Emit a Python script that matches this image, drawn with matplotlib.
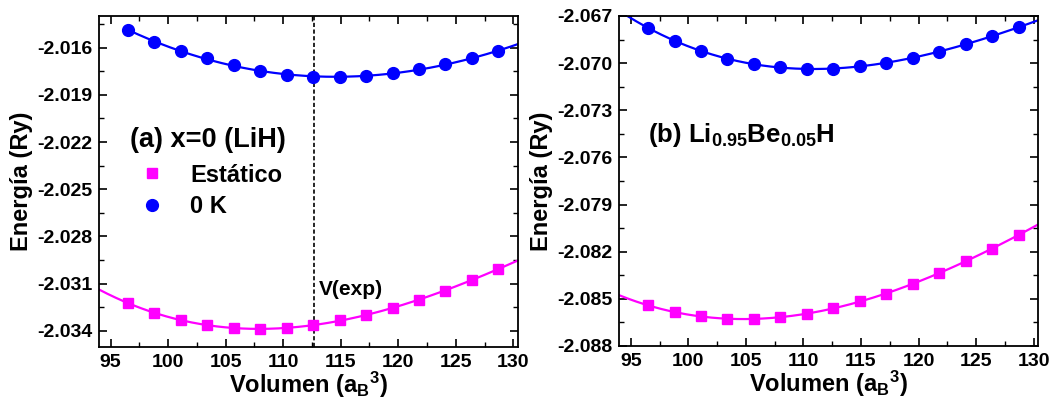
import matplotlib
matplotlib.use("Agg")
import matplotlib.pyplot as plt
import numpy as np
from matplotlib.ticker import MultipleLocator

plt.rcParams['font.family'] = ['Liberation Sans', 'DejaVu Sans']
plt.rcParams['font.weight'] = 'bold'
plt.rcParams['axes.labelweight'] = 'bold'
plt.rcParams['mathtext.fontset'] = 'custom'
plt.rcParams['mathtext.rm'] = 'Liberation Sans:bold'
plt.rcParams['mathtext.bf'] = 'Liberation Sans:bold'
plt.rcParams['mathtext.it'] = 'Liberation Sans:bold'

# volumes (a_B^3)
volumen = [96.5, 98.8, 101.1, 103.4, 105.7, 108.0, 110.3, 112.6,
           114.9, 117.2, 119.5, 121.8, 124.1, 126.4, 128.7]

# (a) LiH
lih_0k = [-2.01486, -2.01562, -2.01623, -2.01664, -2.01712, -2.01748, -2.01774, -2.01786,
          -2.01786, -2.01780, -2.01761, -2.01737, -2.01704, -2.01666, -2.01621]
lih_static = [-2.03222, -2.03288, -2.03334, -2.03366, -2.03383, -2.03388, -2.03381, -2.03366,
              -2.03334, -2.03302, -2.03254, -2.03203, -2.03146, -2.03078, -2.03006]

# (b) Li0.95Be0.05H
libe_0k = [-2.06775, -2.06858, -2.06924, -2.06972, -2.07004, -2.07027, -2.07038, -2.07036,
           -2.07021, -2.06996, -2.06966, -2.06926, -2.06879, -2.06829, -2.06771]
libe_static = [-2.08540, -2.08586, -2.08611, -2.08627, -2.08628, -2.08616, -2.08595, -2.08559,
               -2.08516, -2.08466, -2.08405, -2.08335, -2.08261, -2.08181, -2.08092]

v_exp = 112.7
xlim = (94.0, 130.4)

blue = '#0000FF'
magenta = '#FF00FF'

fig = plt.figure(figsize=(10.5, 4), dpi=100)
ax1 = fig.add_axes([0.0943, 0.1325, 0.399, 0.8275])
ax2 = fig.add_axes([0.5898, 0.1350, 0.399, 0.8250])


def fit_line(ax, x, y, color, x0, x1):
    c = np.polyfit(x, y, 3)
    xx = np.linspace(x0, x1, 300)
    ax.plot(xx, np.polyval(c, xx), color=color, lw=1.6, zorder=2)


def style(ax, ylim, yticks):
    ax.set_xlim(*xlim)
    ax.set_ylim(*ylim)
    ax.set_xticks([95, 100, 105, 110, 115, 120, 125, 130])
    ax.xaxis.set_minor_locator(MultipleLocator(2.5))
    ax.set_yticks(yticks)
    ax.set_yticklabels(['%.3f' % t for t in yticks])
    ax.yaxis.set_minor_locator(MultipleLocator(0.0015))
    ax.tick_params(which='both', direction='in', top=True, right=True, labelsize=14)
    ax.tick_params(which='major', length=6, width=1.2, pad=5)
    ax.tick_params(which='minor', length=3.5, width=1.0)
    for s in ax.spines.values():
        s.set_linewidth(1.3)
    ax.set_xlabel('Volumen (a$_{B}$$^{3}$)', fontsize=17, labelpad=-1)
    ax.set_ylabel('Energía (Ry)', fontsize=17, labelpad=3)


# panel (a)
fit_line(ax1, volumen, lih_static, magenta, xlim[0], xlim[1])
fit_line(ax1, volumen, lih_0k, blue, volumen[0], xlim[1])
ax1.plot(volumen, lih_static, 's', color=magenta, ms=7.5, label='Estático', zorder=3)
ax1.plot(volumen, lih_0k, 'o', color=blue, ms=8.5, label='0 K', zorder=3)
ax1.axvline(v_exp, color='black', ls=(0, (2.5, 1.5)), lw=1.2, zorder=1)
ax1.text(113.1, -2.03141, 'V(exp)', fontsize=15, va='center', ha='left')
ax1.text(0.074, 0.625, '(a) x=0 (LiH)', transform=ax1.transAxes, fontsize=19.5,
         va='center', ha='left')
ax1.legend(loc='center left', bbox_to_anchor=(0.06, 0.472), frameon=False,
           fontsize=17, handletextpad=1.1, labelspacing=0.35, handlelength=1.0,
           borderpad=0.2)
style(ax1, (-2.03504, -2.01398), [-2.034, -2.031, -2.028, -2.025, -2.022, -2.019, -2.016])

# panel (b)
fit_line(ax2, volumen, libe_static, magenta, xlim[0], xlim[1])
fit_line(ax2, volumen, libe_0k, blue, xlim[0], xlim[1])
ax2.plot(volumen, libe_static, 's', color=magenta, ms=7.5, zorder=3)
ax2.plot(volumen, libe_0k, 'o', color=blue, ms=8.5, zorder=3)
ax2.text(0.069, 0.64, '(b) Li$_{0.95}$Be$_{0.05}$H', transform=ax2.transAxes, fontsize=18.5,
         va='center', ha='left')
style(ax2, (-2.0880, -2.0670), [-2.088, -2.085, -2.082, -2.079, -2.076, -2.073, -2.070, -2.067])

fig.savefig('out.png', dpi=100)
